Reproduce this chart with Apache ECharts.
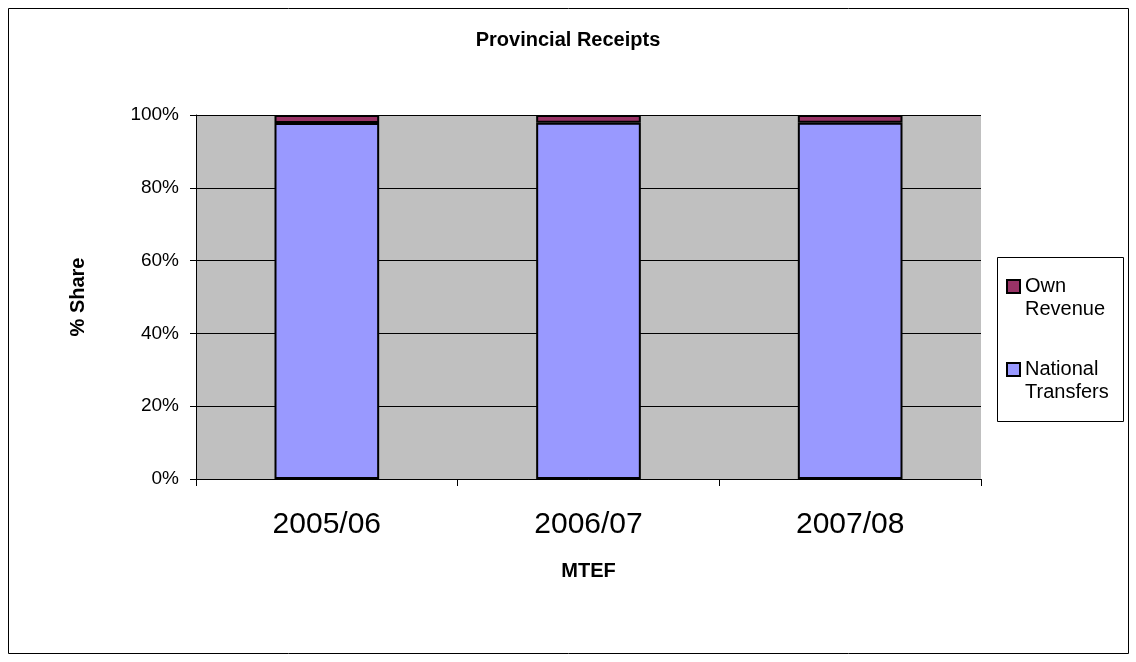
<!DOCTYPE html>
<html>
<head>
<meta charset="utf-8">
<script src="https://cdn.jsdelivr.net/npm/echarts@6/dist/echarts.min.js"></script>
<style>
  html, body { margin: 0; padding: 0; background: #fff; }
  #chart { width: 1136px; height: 662px; }
</style>
</head>
<body>
<div id="chart"></div>
<script>
// MTEF years
const years = ['2005/06', '2006/07', '2007/08'];
// % share of provincial receipts
const nationalTransfers = [97.8, 97.9, 97.9];
const ownRevenue = [2.2, 2.1, 2.1];
const yTicks = [0, 20, 40, 60, 80, 100];

const chart = echarts.init(document.getElementById('chart'));

const barStyle = (color) => ({ color: color, borderColor: '#000', borderWidth: 2 });

chart.setOption({
  animation: false,
  textStyle: { fontFamily: 'Liberation Sans, Arial, sans-serif' },
  title: {
    text: 'Provincial Receipts',
    left: 'center',
    top: 30,
    padding: 0,
    textStyle: { fontSize: 20, fontWeight: 'bold', color: '#000' }
  },
  graphic: [{
    type: 'rect',
    shape: { x: 8.5, y: 8.5, width: 1120, height: 645 },
    style: { fill: 'none', stroke: '#000', lineWidth: 1 },
    silent: true
  }, {
    type: 'rect',
    shape: { x: 997.5, y: 257.5, width: 126, height: 164 },
    style: { fill: '#fff', stroke: '#000', lineWidth: 1 },
    z: 0,
    silent: true
  }],
  legend: {
    orient: 'vertical',
    left: 1006,
    top: 252,
    padding: 0,
    icon: 'rect',
    itemWidth: 13,
    itemHeight: 13,
    itemGap: 14,
    textStyle: { fontSize: 20, color: '#000', lineHeight: 23 },
    // blank first line so the marker sits beside the first word
    formatter: (name) => '\n' + name.replace(' ', '\n'),
    data: ['Own Revenue', 'National Transfers']
  },
  grid: { left: 196, right: 155, top: 115, bottom: 183, backgroundColor: '#c0c0c0', show: true, borderWidth: 0 },
  xAxis: {
    type: 'category',
    data: years,
    name: 'MTEF',
    nameLocation: 'middle',
    nameGap: 82,
    nameTextStyle: { fontSize: 20, fontWeight: 'bold', color: '#000' },
    axisLine: { lineStyle: { color: '#000', width: 1 } },
    axisTick: { show: true, length: 7, lineStyle: { color: '#000' } },
    axisLabel: { fontSize: 30, color: '#000', margin: 31 }
  },
  yAxis: {
    type: 'value',
    min: 0,
    max: 100,
    interval: 20,
    name: '% Share',
    nameLocation: 'middle',
    nameGap: 108,
    nameTextStyle: { fontSize: 20, fontWeight: 'bold', color: '#000' },
    axisLine: { show: true, lineStyle: { color: '#000' } },
    axisTick: { show: true, length: 6, lineStyle: { color: '#000' } },
    axisLabel: { fontSize: 19, color: '#000', margin: 17, formatter: (v) => yTicks.includes(v) ? v + '%' : '' },
    splitLine: { show: true, lineStyle: { color: '#000', width: 1 } }
  },
  series: [{
    name: 'National Transfers',
    type: 'bar',
    stack: 'share',
    barWidth: '40%',
    data: nationalTransfers,
    itemStyle: barStyle('#9999ff')
  }, {
    name: 'Own Revenue',
    type: 'bar',
    stack: 'share',
    barWidth: '40%',
    data: ownRevenue,
    itemStyle: barStyle('#993366')
  }]
});
</script>
</body>
</html>
